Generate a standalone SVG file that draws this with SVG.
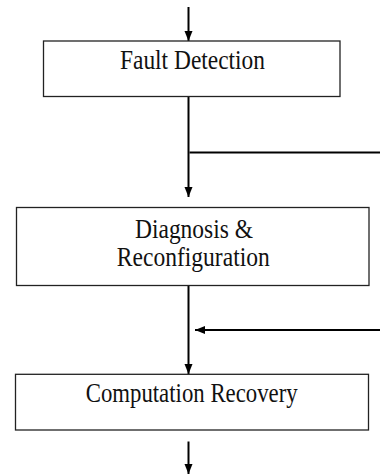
<svg xmlns="http://www.w3.org/2000/svg" width="380" height="474" viewBox="0 0 380 474">
<style>
.box{fill:#fff;stroke:#222;stroke-width:1.3}
.lbl{font-family:"Liberation Serif","Times New Roman",serif;font-size:27px;fill:#111;text-anchor:middle}
.ln{stroke:#000;stroke-width:2;fill:none}
</style>
<defs>
<marker id="ah" markerUnits="userSpaceOnUse" markerWidth="10" markerHeight="10" viewBox="0 0 10 8" refX="10" refY="4" orient="auto">
<path d="M0,0 L10,4 L0,8 Z" fill="#000"/>
</marker>
</defs>
<g id="connectors">
<line class="ln" x1="188.5" y1="7" x2="188.5" y2="41" marker-end="url(#ah)"/>
<line class="ln" x1="188.5" y1="96" x2="188.5" y2="197" marker-end="url(#ah)"/>
<line class="ln" x1="189.5" y1="152.5" x2="380" y2="152.5"/>
<line class="ln" x1="188.5" y1="286" x2="188.5" y2="374" marker-end="url(#ah)"/>
<line class="ln" x1="380" y1="330" x2="195" y2="330" marker-end="url(#ah)"/>
<line class="ln" x1="188.5" y1="441.5" x2="188.5" y2="474" marker-end="url(#ah)"/>
</g>
<g id="fault-detection">
<rect class="box" x="43.5" y="41" width="296.5" height="55.5"/>
<text class="lbl" x="192.5" y="69" textLength="145" lengthAdjust="spacingAndGlyphs">Fault Detection</text>
</g>
<g id="diagnosis">
<rect class="box" x="16.5" y="207.5" width="352.5" height="78"/>
<text class="lbl" x="194" y="237.5" textLength="118" lengthAdjust="spacingAndGlyphs">Diagnosis &amp;</text>
<text class="lbl" x="193.3" y="266" textLength="153" lengthAdjust="spacingAndGlyphs">Reconfiguration</text>
</g>
<g id="computation-recovery">
<rect class="box" x="15.5" y="374.3" width="353" height="55.7"/>
<text class="lbl" x="191.7" y="401.5" textLength="212" lengthAdjust="spacingAndGlyphs">Computation Recovery</text>
</g>
</svg>
